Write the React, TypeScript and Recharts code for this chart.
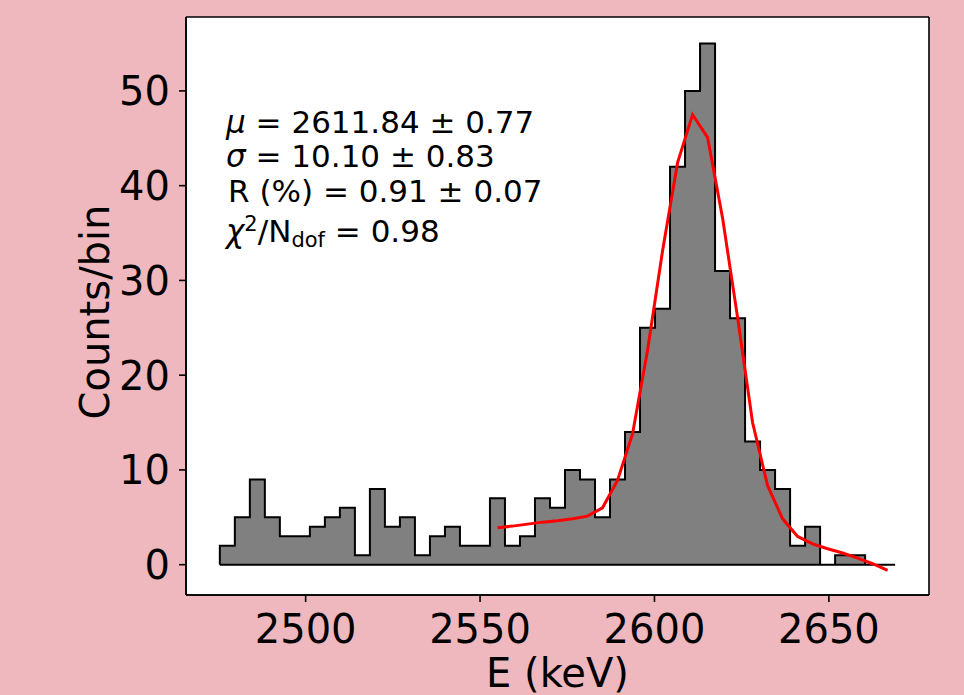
import {
  ComposedChart,
  Area,
  Line,
  XAxis,
  YAxis,
  CartesianGrid,
  Customized,
} from 'recharts';

// histogram binning (keV)
const binStart = 2475.4;
const binWidth = 4.302;

// counts per bin
const counts = [
  2, 5, 9, 5, 3, 3, 4, 5, 6, 1, 8, 4, 5, 1, 3, 4, 2, 2, 7, 2, 3, 7, 6, 10, 9,
  5, 9, 14, 25, 27, 42, 50, 55, 31, 26, 13, 10, 8, 2, 4, 0, 1, 1, 0, 0,
];

// fitted model, evaluated at the bin centres starting from bin fitFirstBin
const fitFirstBin = 18;
const fitCounts = [
  3.9, 4.07, 4.28, 4.49, 4.63, 4.84, 5.12, 6.0, 8.9, 13.8, 22.6, 33.1, 42.4,
  47.5, 45.1, 36.6, 26.1, 15.0, 8.35, 4.84, 2.98, 2.2, 1.68, 1.23, 0.7, 0.1,
  -0.6,
];

const xTicks = [2500, 2550, 2600, 2650];
const yTicks = [0, 10, 20, 30, 40, 50];

// fit results
const fitMu = '2611.84 ± 0.77';
const fitSigma = '10.10 ± 0.83';
const fitRes = '0.91 ± 0.07';
const fitChi2 = '0.98';

const FONT = 'DejaVu Sans';
const edge = (i: number) => binStart + i * binWidth;
const binEnd = edge(counts.length);

const histFill = [
  ...counts.map((c, i) => ({ x: edge(i), y: c })),
  { x: binEnd, y: 0 },
];

// closed outline of the step histogram
const histOutline = [
  { x: edge(0), y: 0 },
  ...counts.flatMap((c, i) => [
    { x: edge(i), y: c },
    { x: edge(i + 1), y: c },
  ]),
  { x: binEnd, y: 0 },
  { x: edge(0), y: 0 },
];

const fitLine = fitCounts.map((v, i) => ({
  x: edge(fitFirstBin + i + 0.5),
  y: v,
}));

const XTick = ({ x, y, payload }: any) => (
  <text x={x} y={y + 40.5} textAnchor="middle" fontSize={40} fontFamily={FONT} fill="#000">
    {payload.value}
  </text>
);

const YTick = ({ x, y, payload }: any) => (
  <text x={x - 9} y={y + 14.5} textAnchor="end" fontSize={40} fontFamily={FONT} fill="#000">
    {payload.value}
  </text>
);

const FitBox = () => (
  <g fontFamily={FONT} fontSize={31} fill="#000">
    <text x={226} y={132.7}>
      <tspan fontStyle="italic">μ</tspan> = {fitMu}
    </text>
    <text x={226} y={166.7}>
      <tspan fontStyle="italic">σ</tspan> = {fitSigma}
    </text>
    <text x={228} y={201.7}>R (%) = {fitRes}</text>
    <text x={226} y={241.7}>
      <tspan fontStyle="italic">χ</tspan>
      <tspan fontSize={21} dy={-11}>2</tspan>
      <tspan dy={11}>/N</tspan>
      <tspan fontSize={21} dy={5}>dof</tspan>
      <tspan dy={-5}> = {fitChi2}</tspan>
    </text>
  </g>
);

export default function App() {
  return (
    <div
      style={{
        position: 'absolute',
        left: 0,
        top: 0,
        width: 964,
        height: 695,
        background: '#efb8be',
      }}
    >
      <ComposedChart
        width={964}
        height={695}
        data={histFill}
        margin={{ top: 17, right: 35, bottom: 0, left: 0 }}
      >
        <CartesianGrid
          fill="#fff"
          fillOpacity={1}
          stroke="#000"
          strokeWidth={1.6}
          horizontalCoordinatesGenerator={({ offset }: any) => [
            offset.top,
            offset.top + offset.height,
          ]}
          verticalCoordinatesGenerator={({ offset }: any) => [
            offset.left,
            offset.left + offset.width,
          ]}
        />
        <XAxis
          type="number"
          dataKey="x"
          domain={[2465.7, 2678.7]}
          ticks={xTicks}
          allowDataOverflow
          height={100}
          tickSize={7}
          tickMargin={0}
          tick={<XTick />}
          axisLine={{ stroke: '#000', strokeWidth: 1.6 }}
          tickLine={{ stroke: '#000', strokeWidth: 1.6 }}
          label={{
            content: ({ viewBox }: any) => (
              <text
                x={viewBox.x + viewBox.width / 2}
                y={viewBox.y + 92}
                textAnchor="middle"
                fontSize={40}
                fontFamily={FONT}
                fill="#000"
              >
                E (keV)
              </text>
            ),
          }}
        />
        <YAxis
          type="number"
          domain={[-3.2, 57.8]}
          ticks={yTicks}
          allowDataOverflow
          width={186}
          tickSize={7}
          tickMargin={0}
          tick={<YTick />}
          axisLine={{ stroke: '#000', strokeWidth: 1.6 }}
          tickLine={{ stroke: '#000', strokeWidth: 1.6 }}
          label={{
            content: ({ viewBox }: any) => {
              const cx = 109;
              const cy = viewBox.y + viewBox.height / 2 + 6;
              return (
                <text
                  x={cx}
                  y={cy}
                  transform={`rotate(-90 ${cx} ${cy})`}
                  textAnchor="middle"
                  fontSize={40}
                  fontFamily={FONT}
                  fill="#000"
                >
                  Counts/bin
                </text>
              );
            },
          }}
        />
        <Area
          type="stepAfter"
          dataKey="y"
          baseValue={0}
          fill="#808080"
          fillOpacity={1}
          stroke="none"
          isAnimationActive={false}
        />
        <Line
          data={histOutline}
          type="linear"
          dataKey="y"
          stroke="#000"
          strokeWidth={2}
          dot={false}
          activeDot={false}
          isAnimationActive={false}
        />
        <Line
          data={fitLine}
          type="linear"
          dataKey="y"
          stroke="#ff0000"
          strokeWidth={3}
          dot={false}
          activeDot={false}
          isAnimationActive={false}
        />
        <Customized component={FitBox} />
      </ComposedChart>
    </div>
  );
}
